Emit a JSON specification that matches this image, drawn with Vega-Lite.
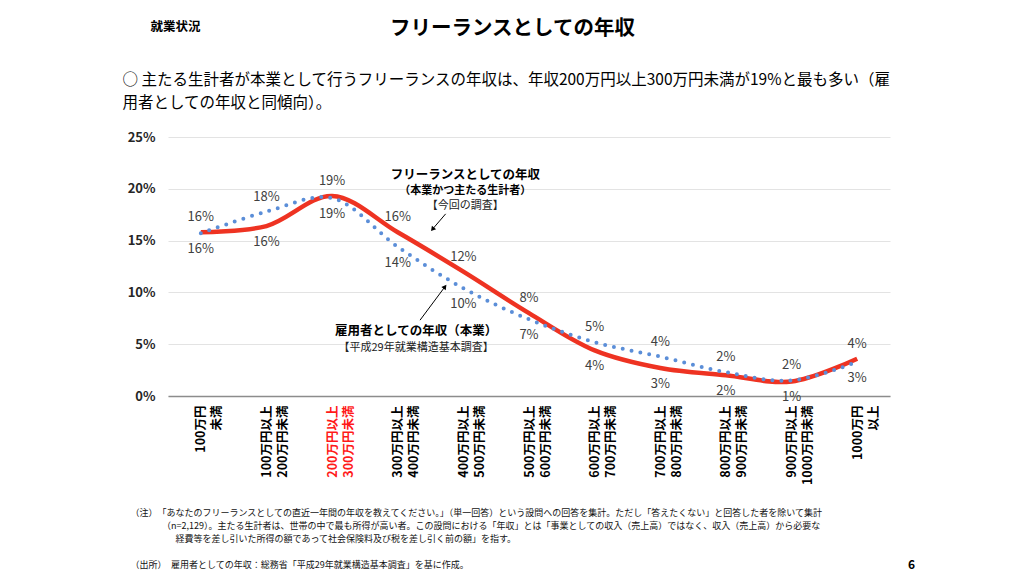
{
  "$schema": "https://vega.github.io/schema/vega-lite/v6.json",
  "width": 722,
  "height": 259,
  "autosize": {"type": "none"},
  "padding": {"left": 168, "top": 137, "right": 134, "bottom": 180},
  "background": "white",
  "config": {
    "view": {"stroke": null},
    "font": "Noto Sans CJK JP",
    "axis": {"labelFont": "Noto Sans CJK JP", "titleFont": "Noto Sans CJK JP"},
    "title": {"font": "Noto Sans CJK JP"}
  },
  "title": {"text": "6", "orient": "bottom", "anchor": "end", "frame": "group", "fontSize": 12, "fontWeight": "bold", "color": "#000000", "dx": 25, "dy": -9, "offset": 0},
  "datasets": {
    "income": [
      {"idx": 0, "series": "freelance", "pct": 15.8},
      {"idx": 1, "series": "freelance", "pct": 16.4},
      {"idx": 2, "series": "freelance", "pct": 19.3},
      {"idx": 3, "series": "freelance", "pct": 15.8},
      {"idx": 4, "series": "freelance", "pct": 12.0},
      {"idx": 5, "series": "freelance", "pct": 8.0},
      {"idx": 6, "series": "freelance", "pct": 4.4},
      {"idx": 7, "series": "freelance", "pct": 2.7},
      {"idx": 8, "series": "freelance", "pct": 2.0},
      {"idx": 9, "series": "freelance", "pct": 1.4},
      {"idx": 10, "series": "freelance", "pct": 3.6},
      {"idx": 0, "series": "employee", "pct": 15.7},
      {"idx": 1, "series": "employee", "pct": 17.8},
      {"idx": 2, "series": "employee", "pct": 19.1},
      {"idx": 3, "series": "employee", "pct": 14.4},
      {"idx": 4, "series": "employee", "pct": 10.4},
      {"idx": 5, "series": "employee", "pct": 7.4},
      {"idx": 6, "series": "employee", "pct": 5.2},
      {"idx": 7, "series": "employee", "pct": 3.8},
      {"idx": 8, "series": "employee", "pct": 2.3},
      {"idx": 9, "series": "employee", "pct": 1.5},
      {"idx": 10, "series": "employee", "pct": 3.3}
    ],
    "notes": [
      {"idx": 4.03, "pct": 21.35, "role": "heading", "text": "フリーランスとしての年収"},
      {"idx": 4.03, "pct": 19.76, "role": "qualifier", "text": "（本業かつ主たる生計者）"},
      {"idx": 4.03, "pct": 18.35, "role": "source", "text": "【今回の調査】"},
      {"idx": 3.28, "pct": 6.27, "role": "heading", "text": "雇用者としての年収（本業）"},
      {"idx": 3.28, "pct": 4.6, "role": "source", "text": "【平成29年就業構造基本調査】"}
    ],
    "arrows": [
      {"arrow": "freelance", "idx": 3.73, "pct": 17.58, "idx_head": 3.53, "pct_head": 16.1},
      {"arrow": "employee", "idx": 3.34, "pct": 7.32, "idx_head": 3.72, "pct_head": 10.55}
    ]
  },
  "layer": [
    {
      "data": {"name": "income"},
      "transform": [{"filter": "datum.series == 'freelance'"}],
      "mark": {"type": "line", "interpolate": "catmull-rom", "color": "#ee3322", "strokeWidth": 4.5},
      "encoding": {
        "x": {
          "field": "idx", "type": "quantitative",
          "scale": {"domain": [-0.5, 10.5], "nice": false, "zero": false},
          "axis": {
            "orient": "bottom",
            "values": [0, 1, 2, 3, 4, 5, 6, 7, 8, 9, 10],
            "labelExpr": "split(['100万円|未満','100万円以上|200万円未満','200万円以上|300万円未満','300万円以上|400万円未満','400万円以上|500万円未満','500万円以上|600万円未満','600万円以上|700万円未満','700万円以上|800万円未満','800万円以上|900万円未満','900万円以上|1000万円未満','1000万円|以上'][datum.value], '|')",
            "labelAngle": -90,
            "labelFontSize": 12.5,
            "labelFontWeight": "bold",
            "labelColor": {"condition": {"test": "datum.value == 2", "value": "#ff1a1a"}, "value": "#000000"},
            "labelLineHeight": 16,
            "labelPadding": 9,
            "labelOverlap": false,
            "labelFlush": false,
            "labelBound": false,
            "labelLimit": 0,
            "ticks": false,
            "grid": false,
            "domainColor": "#8c8c8c",
            "domainWidth": 1.5,
            "title": [
              "（注）\u3000「あなたのフリーランスとしての直近一年間の年収を教えてください。」（単一回答）という設問への回答を集計。ただし「答えたくない」と回答した者を除いて集計",
              "\u200b\u3000\u3000\u3000\u3000（n=2,129）。主たる生計者は、世帯の中で最も所得が高い者。この設問における「年収」とは「事業としての収入（売上高）ではなく、収入（売上高）から必要な",
              "\u200b\u3000\u3000\u3000\u3000\u3000経費等を差し引いた所得の額であって社会保険料及び税を差し引く前の額」を指す。",
              "\u200b\u3000",
              "（出所）\u3000雇用者としての年収：総務省「平成29年就業構造基本調査」を基に作成。"
            ],
            "titleX": -38,
            "titleY": 112,
            "titleAlign": "left",
            "titleBaseline": "top",
            "titleFontSize": 9,
            "titleFontWeight": "normal",
            "titleColor": "#111111",
            "titleLineHeight": 13,
            "titleLimit": 2000
          }
        },
        "y": {
          "field": "pct", "type": "quantitative",
          "scale": {"domain": [0, 25], "nice": false},
          "axis": {
            "orient": "left",
            "values": [0, 5, 10, 15, 20, 25],
            "labelExpr": "datum.value + '%'",
            "labelFontSize": 13,
            "labelFontWeight": "bold",
            "labelColor": "#262626",
            "labelPadding": 13,
            "ticks": false,
            "domain": false,
            "grid": true,
            "gridColor": "#e3e3e3",
            "gridWidth": 1,
            "title": [
              "○ 主たる生計者が本業として行うフリーランスの年収は、年収200万円以上300万円未満が19%と最も多い（雇",
              "用者としての年収と同傾向）。"
            ],
            "titleAngle": 0,
            "titleX": -46,
            "titleY": -65,
            "titleAlign": "left",
            "titleBaseline": "top",
            "titleFontSize": 15.5,
            "titleFontWeight": "normal",
            "titleColor": "#000000",
            "titleLineHeight": 23,
            "titleLimit": 2000
          }
        }
      }
    },
    {
      "data": {"name": "income"},
      "transform": [{"filter": "datum.series == 'employee'"}],
      "mark": {"type": "line", "interpolate": "catmull-rom", "color": "#5b8ed8", "strokeWidth": 4, "strokeDash": [0, 9], "strokeCap": "round"},
      "encoding": {
        "x": {"field": "idx", "type": "quantitative", "axis": null},
        "y": {"field": "pct", "type": "quantitative", "axis": null}
      }
    },
    {
      "data": {"name": "income"},
      "transform": [
        {"joinaggregate": [{"op": "max", "field": "pct", "as": "top"}], "groupby": ["idx"]},
        {"filter": "datum.pct == datum.top"},
        {"calculate": "format(datum.pct, '.0f') + '%'", "as": "lbl"}
      ],
      "mark": {"type": "text", "fontSize": 13, "color": "#404040", "dy": -15, "baseline": "middle", "align": "center"},
      "encoding": {
        "x": {"field": "idx", "type": "quantitative", "axis": null},
        "y": {"field": "pct", "type": "quantitative", "axis": null},
        "text": {"field": "lbl"}
      }
    },
    {
      "data": {"name": "income"},
      "transform": [
        {"joinaggregate": [{"op": "max", "field": "pct", "as": "top"}], "groupby": ["idx"]},
        {"filter": "datum.pct < datum.top"},
        {"calculate": "format(datum.pct, '.0f') + '%'", "as": "lbl"}
      ],
      "mark": {"type": "text", "fontSize": 13, "color": "#404040", "dy": 16, "baseline": "middle", "align": "center"},
      "encoding": {
        "x": {"field": "idx", "type": "quantitative", "axis": null},
        "y": {"field": "pct", "type": "quantitative", "axis": null},
        "text": {"field": "lbl"}
      }
    },
    {
      "data": {"name": "notes"},
      "transform": [{"filter": "datum.role == 'heading'"}],
      "mark": {"type": "text", "fontSize": 12.5, "fontWeight": "bold", "color": "#000000", "baseline": "middle", "align": "center"},
      "encoding": {
        "x": {
          "field": "idx", "type": "quantitative",
          "axis": {
            "orient": "top", "labels": false, "ticks": false, "domain": false, "grid": false,
            "title": "フリーランスとしての年収",
            "titleX": 344, "titleY": -109, "titleAlign": "center", "titleBaseline": "middle",
            "titleFontSize": 20.5, "titleFontWeight": "bold", "titleColor": "#000000", "titleLimit": 2000
          }
        },
        "y": {
          "field": "pct", "type": "quantitative",
          "axis": {
            "orient": "right", "labels": false, "ticks": false, "domain": false, "grid": false,
            "title": "就業状況",
            "titleAngle": 0, "titleX": -715, "titleY": -111, "titleAlign": "center", "titleBaseline": "middle",
            "titleFontSize": 12.5, "titleFontWeight": "bold", "titleColor": "#000000", "titleLimit": 2000
          }
        },
        "text": {"field": "text"}
      }
    },
    {
      "data": {"name": "notes"},
      "transform": [{"filter": "datum.role == 'qualifier'"}],
      "mark": {"type": "text", "fontSize": 11, "fontWeight": "bold", "color": "#000000", "baseline": "middle", "align": "center"},
      "encoding": {
        "x": {"field": "idx", "type": "quantitative", "axis": null},
        "y": {"field": "pct", "type": "quantitative", "axis": null},
        "text": {"field": "text"}
      }
    },
    {
      "data": {"name": "notes"},
      "transform": [{"filter": "datum.role == 'source'"}],
      "mark": {"type": "text", "fontSize": 11, "color": "#222222", "baseline": "middle", "align": "center"},
      "encoding": {
        "x": {"field": "idx", "type": "quantitative", "axis": null},
        "y": {"field": "pct", "type": "quantitative", "axis": null},
        "text": {"field": "text"}
      }
    },
    {
      "data": {"name": "arrows"},
      "mark": {"type": "rule", "color": "#000000", "strokeWidth": 1},
      "encoding": {
        "x": {"field": "idx", "type": "quantitative", "axis": null},
        "y": {"field": "pct", "type": "quantitative", "axis": null},
        "x2": {"field": "idx_head"},
        "y2": {"field": "pct_head"}
      }
    },
    {
      "data": {"name": "arrows"},
      "transform": [{"filter": "datum.arrow == 'freelance'"}],
      "mark": {"type": "point", "shape": "triangle-up", "filled": true, "size": 30, "angle": 220, "color": "#000000", "opacity": 1},
      "encoding": {
        "x": {"field": "idx_head", "type": "quantitative", "axis": null},
        "y": {"field": "pct_head", "type": "quantitative", "axis": null}
      }
    },
    {
      "data": {"name": "arrows"},
      "transform": [{"filter": "datum.arrow == 'employee'"}],
      "mark": {"type": "point", "shape": "triangle-up", "filled": true, "size": 30, "angle": 37, "color": "#000000", "opacity": 1},
      "encoding": {
        "x": {"field": "idx_head", "type": "quantitative", "axis": null},
        "y": {"field": "pct_head", "type": "quantitative", "axis": null}
      }
    }
  ],
  "resolve": {"axis": {"x": "independent", "y": "independent"}}
}
